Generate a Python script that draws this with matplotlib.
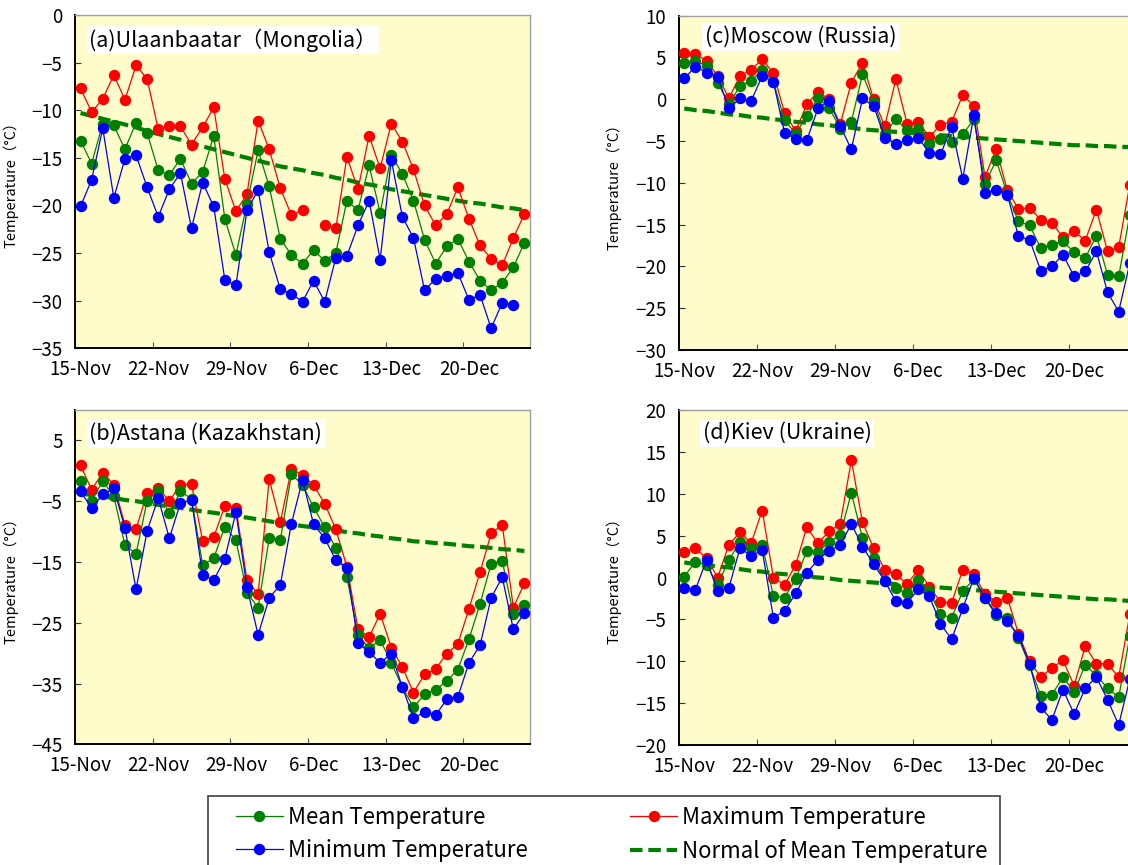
import numpy as np
import matplotlib
matplotlib.use("Agg")
import matplotlib.pyplot as plt
from matplotlib.lines import Line2D
from matplotlib.patches import Rectangle

plt.rcParams['font.family'] = ['Noto Sans CJK JP', 'DejaVu Sans']

nan = np.nan
days = 41  # 15-Nov .. 25-Dec
tick_labels = ["15-Nov", "22-Nov", "29-Nov", "6-Dec", "13-Dec", "20-Dec"]
tick_pos = [0, 7, 14, 21, 28, 35]

# (a) Ulaanbaatar
ub_max = [-7.7, -10.2, -8.8, -6.3, -8.9, -5.3, -6.7, -12.0, -11.7, -11.7, -13.6, -11.8, -9.7, -17.2, -20.6,
          -18.8, -11.1, -14.1, -18.2, -21.0, -20.5, nan, -22.1, -22.4, -14.9, -18.3, -12.7, -16.1, -11.4,
          -13.3, -16.2, -20.0, -22.1, -20.9, -18.1, -21.4, -24.2, -25.6, -26.3, -23.4, -20.9]
ub_mean = [-13.2, -15.6, -11.4, -11.6, -14.1, -11.3, -12.4, -16.3, -16.8, -15.1, -17.7, -16.5, -12.7, -21.4,
           -25.2, -19.8, -14.2, -18.0, -23.5, -25.2, -26.1, -24.7, -25.8, -25.0, -19.5, -20.5, -15.8, -20.8,
           -14.7, -16.7, -19.5, -23.6, -26.1, -24.3, -23.5, -25.9, -27.9, -28.9, -28.1, -26.5, -23.9]
ub_min = [-20.1, -17.3, -11.9, -19.2, -15.1, -14.7, -18.1, -21.2, -18.3, -16.6, -22.4, -17.6, -20.1, -27.8,
          -28.4, -20.5, -18.4, -24.9, -28.8, -29.3, -30.1, -27.9, -30.1, -25.5, -25.3, -22.1, -19.5, -25.7,
          -15.2, -21.2, -23.4, -28.9, -27.7, -27.4, -27.1, -29.9, -29.4, -32.9, -30.2, -30.5, nan]
ub_norm = [-10.3, -10.6, -10.9, -11.2, -11.5, -11.8, -12.2, -12.5, -12.8, -13.1, -13.5, -13.8, -14.1, -14.4,
           -14.7, -15.0, -15.3, -15.6, -15.9, -16.1, -16.3, -16.6, -16.8, -17.1, -17.3, -17.6, -17.8, -18.0,
           -18.3, -18.5, -18.7, -18.9, -19.1, -19.3, -19.5, -19.7, -19.8, -20.0, -20.2, -20.3, -20.5]

# (b) Astana
as_max = [0.9, -3.1, -0.3, -2.3, -8.9, -9.6, -3.7, -2.8, -5.0, -2.3, -2.2, -11.5, -10.9, -5.8, -6.1, -18.0,
          -20.3, -1.4, -8.5, 0.3, -0.7, -2.4, -5.4, -9.6, -15.8, -26.0, -27.4, -23.5, -29.1, -32.3, -36.5,
          -33.5, -32.6, -30.1, -28.5, -22.7, -16.7, -10.3, -8.9, -22.5, -18.5]
as_mean = [-1.6, -4.9, -1.7, -4.2, -12.2, -13.7, -4.9, -3.3, -7.0, -3.4, -4.6, -15.5, -14.4, -9.2, -11.4,
           -20.1, -22.5, -11.1, -11.4, -0.6, -2.3, -6.0, -9.3, -12.7, -17.5, -27.0, -29.2, -27.8, -31.6,
           -35.6, -38.9, -36.8, -36.0, -34.6, -32.7, -27.7, -21.9, -15.3, -14.8, -23.6, -22.1]
as_min = [-3.4, -6.1, -3.9, -2.9, -9.4, -19.5, -9.9, -4.5, -11.1, -5.3, -4.8, -17.1, -18.0, -14.5, -6.8,
          -19.2, -27.0, -20.9, -18.8, -8.7, -1.5, -8.8, -11.1, -14.7, -16.0, -28.3, -29.8, -31.6, -30.1,
          -35.6, -40.7, -39.7, -40.2, -37.6, -37.2, -31.6, -28.7, -20.9, -17.5, -26.1, -23.4]
as_norm = [-3.7, -4.0, -4.2, -4.5, -4.8, -5.0, -5.3, -5.6, -5.9, -6.1, -6.4, -6.7, -6.9, -7.2, -7.5, -7.7,
           -8.0, -8.3, -8.6, -8.8, -9.1, -9.3, -9.6, -9.8, -10.1, -10.3, -10.6, -10.8, -11.1, -11.3, -11.6,
           -11.7, -11.9, -12.0, -12.2, -12.4, -12.5, -12.7, -12.9, -13.0, -13.2]

# (c) Moscow
mo_max = [5.5, 5.4, 4.6, 2.8, 0.1, 2.8, 3.5, 4.8, 3.1, -1.6, -3.8, -0.6, 0.9, 0.0, -3.0, 2.0, 4.4, 0.0, -3.2,
          2.4, -2.9, -2.7, -4.5, -3.1, -2.7, 0.5, -0.8, -9.3, -5.9, -10.9, -13.1, -13.0, -14.4, -14.8, -16.5,
          -15.8, -16.9, -13.2, -18.2, -17.7, -10.2]
mo_mean = [4.4, 4.6, 4.0, 2.0, -0.6, 1.6, 2.2, 3.5, 2.1, -2.5, -4.1, -2.0, 0.1, -1.0, -3.5, -2.7, 3.0, -0.3,
           -4.1, -2.4, -3.7, -3.5, -5.4, -4.8, -5.1, -4.2, -2.4, -10.1, -7.3, -11.3, -14.6, -15.1, -17.8,
           -17.4, -17.0, -18.3, -19.0, -16.3, -21.0, -21.2, -13.8]
mo_min = [2.5, 3.9, 3.2, 2.7, -1.1, 0.1, -0.2, 2.8, 2.1, -4.0, -4.7, -4.9, -1.1, -0.2, -3.2, -6.0, 0.1, -0.8,
          -4.6, -5.3, -4.9, -4.6, -6.4, -6.6, -3.3, -9.5, -1.9, -11.2, -10.8, -11.4, -16.4, -16.8, -20.5,
          -20.0, -18.6, -21.2, -20.6, -18.2, -23.1, -25.4, -19.6]
mo_norm = [-1.1, -1.3, -1.4, -1.6, -1.8, -1.9, -2.1, -2.2, -2.4, -2.5, -2.7, -2.8, -3.0, -3.1, -3.3, -3.4,
           -3.6, -3.7, -3.8, -3.9, -4.0, -4.1, -4.2, -4.3, -4.4, -4.5, -4.6, -4.7, -4.8, -4.9, -5.0, -5.1,
           -5.2, -5.3, -5.4, -5.5, -5.5, -5.6, -5.6, -5.7, -5.7]

# (d) Kiev
kv_max = [3.05, 3.5, 2.3, 0.0, 3.9, 5.4, 4.1, 8.0, 0.0, -0.9, 1.5, 6.0, 4.1, 5.5, 6.4, 14.0, 6.6, 3.5, 0.9,
          0.4, -0.8, 0.9, -1.1, -2.9, -3.0, 0.9, 0.4, -2.0, -2.9, -2.4, -6.7, -10.0, -11.9, -10.8, -9.9,
          -12.9, -8.2, -10.3, -10.3, -11.9, -4.4]
kv_mean = [0.1, 1.9, 1.5, -0.9, 2.1, 4.2, 3.5, 3.9, -2.2, -2.4, -0.2, 3.2, 3.05, 4.2, 5.1, 10.1, 4.7, 2.3,
           -0.45, -1.3, -1.9, -0.3, -1.65, -4.4, -4.8, -1.65, -0.2, -2.5, -4.5, -4.8, -7.2, -10.5, -14.1,
           -14.0, -11.9, -13.7, -10.4, -11.7, -13.2, -14.3, -7.0]
kv_min = [-1.25, -1.45, 2.1, -1.65, -1.25, 3.5, 2.6, 3.25, -4.8, -4.0, -1.9, 0.55, 2.1, 3.2, 3.85, 6.4, 3.7,
          1.6, -0.4, -2.85, -3.05, -1.4, -2.25, -5.5, -7.4, -3.7, -0.05, -2.45, -4.25, -5.2, -7.0, -10.3,
          -15.5, -17.0, -13.4, -16.3, -13.2, -11.9, -14.6, -17.6, -12.1]
kv_norm = [1.8, 1.6, 1.5, 1.3, 1.2, 1.0, 0.8, 0.7, 0.5, 0.4, 0.3, 0.1, 0.0, -0.1, -0.3, -0.4, -0.5, -0.6,
           -0.7, -0.8, -0.9, -1.0, -1.1, -1.2, -1.3, -1.4, -1.5, -1.6, -1.7, -1.8, -1.9, -2.0, -2.1, -2.2,
           -2.3, -2.4, -2.5, -2.6, -2.6, -2.7, -2.8]

W, H = 1128, 865
fig = plt.figure(figsize=(W / 100, H / 100), dpi=100)

RED, GREEN, BLUE = '#FF0000', '#008000', '#0000FF'
BG = '#FFFCCC'


def px_axes(left, top, right, bottom):
    return fig.add_axes([left / W, 1 - bottom / H, (right - left) / W, (bottom - top) / H])


panels = [
    dict(rect=(75, 15, 530, 348.3), title="(a)Ulaanbaatar（Mongolia）", tx=0.031, ty=0.925,
         ylim=(-35, 0), yticks=np.arange(-35, 1, 5), data=(ub_max, ub_mean, ub_min, ub_norm)),
    dict(rect=(75, 410, 530, 744.3), title="(b)Astana (Kazakhstan)", tx=0.031, ty=0.928,
         ylim=(-45, 10), yticks=np.arange(-45, 6, 10), data=(as_max, as_mean, as_min, as_norm)),
    dict(rect=(678.7, 15.7, 1135.4, 350), title="(c)Moscow (Russia)", tx=0.057, ty=0.936,
         ylim=(-30, 10), yticks=np.arange(-30, 11, 5), data=(mo_max, mo_mean, mo_min, mo_norm)),
    dict(rect=(678.7, 410, 1135.4, 745), title="(d)Kiev (Ukraine)", tx=0.053, ty=0.931,
         ylim=(-20, 20), yticks=np.arange(-20, 21, 5), data=(kv_max, kv_mean, kv_min, kv_norm)),
]

x = np.arange(days)
for p in panels:
    ax = px_axes(*p['rect'])
    ax.set_facecolor(BG)
    mx, mn_, mi, nm = p['data']
    ax.plot(x, nm, color=GREEN, lw=3.0, dashes=(3, 1.4), zorder=2)
    ax.plot(x, mx, color=RED, lw=0.9, marker='o', ms=8.2, mew=0, zorder=3)
    ax.plot(x, mn_, color=GREEN, lw=0.9, marker='o', ms=8.2, mew=0, zorder=4)
    ax.plot(x, mi, color=BLUE, lw=0.9, marker='o', ms=8.2, mew=0, zorder=5)
    ax.set_xlim(-0.5, days - 0.5)
    ax.set_ylim(*p['ylim'])
    ax.set_yticks(p['yticks'])
    ax.set_xticks(tick_pos)
    ax.set_xticklabels(tick_labels)
    ax.set_xticks(np.arange(6.5, days, 7), minor=True)
    ax.tick_params(axis='x', which='major', length=0, pad=8, labelsize=13.5)
    ax.tick_params(axis='x', which='minor', length=4, direction='in', color='#555555', width=0.8)
    ax.tick_params(axis='y', which='major', length=4, direction='in', pad=9, labelsize=13.5,
                   color='#333333', width=0.8)
    for s in ('left', 'bottom'):
        ax.spines[s].set_color('black')
        ax.spines[s].set_linewidth(1.4)
    for s in ('top', 'right'):
        ax.spines[s].set_color('#A0A0A0')
        ax.spines[s].set_linewidth(1.0)
    ax.set_ylabel("Temperature（°C）", fontsize=10.5)
    ax.yaxis.set_label_coords(-0.125, 0.5)
    ax.text(p['tx'], p['ty'], p['title'], transform=ax.transAxes, ha='left', va='center', fontsize=15.5,
            zorder=10, bbox=dict(boxstyle='square,pad=0.12', facecolor='white', edgecolor='none'))

handles = [
    Line2D([], [], color=GREEN, lw=0.9, marker='o', ms=8.2, mew=0),
    Line2D([], [], color=BLUE, lw=0.9, marker='o', ms=8.2, mew=0),
    Line2D([], [], color=RED, lw=0.9, marker='o', ms=8.2, mew=0),
    Line2D([], [], color=GREEN, lw=3.0, dashes=(3, 1.4)),
]
labels = ["Mean Temperature", "Minimum Temperature", "Maximum Temperature", "Normal of Mean Temperature"]
fig.legend(handles, labels, ncol=2, loc='upper left', bbox_to_anchor=(236 / W, 1 - 806 / H),
           frameon=False, fontsize=16, borderpad=0, handlelength=2.1, handletextpad=0.25,
           columnspacing=4.6, labelspacing=0.43, borderaxespad=0)
fig.patches.append(Rectangle((208 / W, -0.05), (1000 - 208) / W, (1 - 796 / H) + 0.05,
                             transform=fig.transFigure, fill=False, edgecolor='#404040', lw=1.2))

fig.savefig('out.png', dpi=100)
